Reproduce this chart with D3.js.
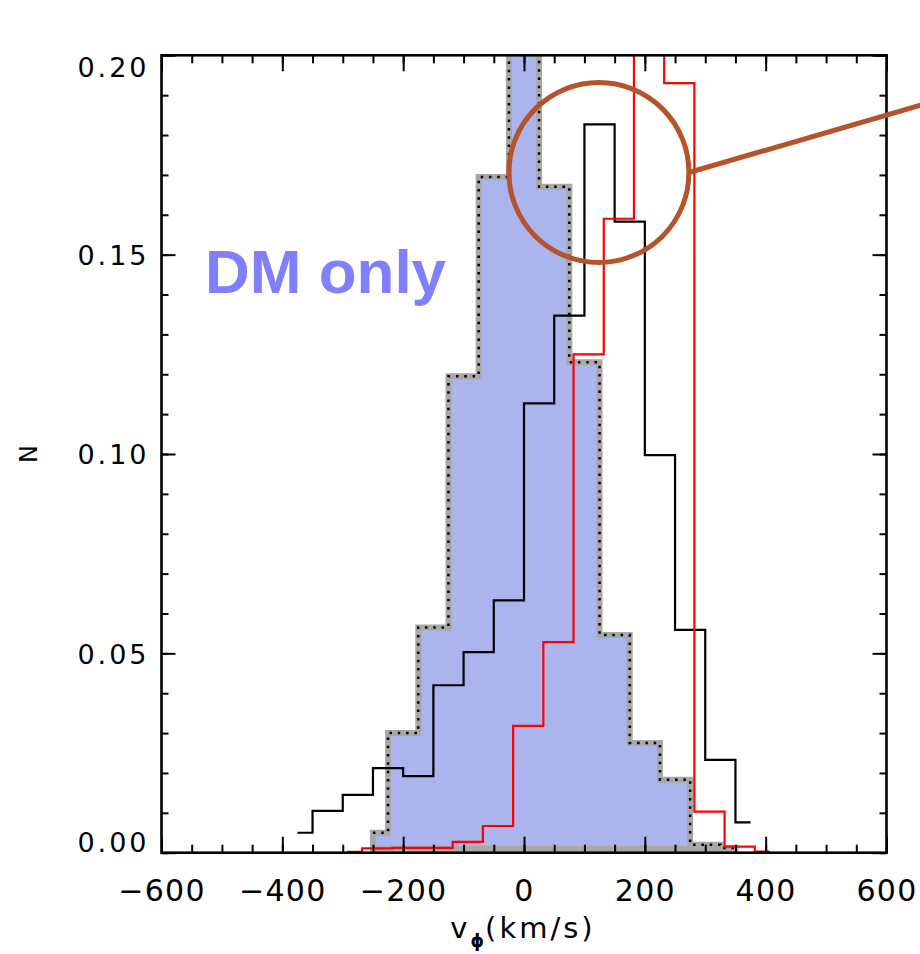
<!doctype html>
<html lang="en">

<head>
    <meta charset="UTF-8" />
    <meta name="viewport" content="width=device-width, initial-scale=1.0" />
    <script src="https://d3js.org/d3.v7.min.js"></script>
    <title>v_phi distribution</title>
    <style>
        body { margin: 0; background: #fff; }
    </style>
</head>

<body>
    <div id="chart"></div>
    <script>
        // Histogram bin centres (km/s) and normalised counts
        // DM-only run (filled)
        const dmCenters = [-250, -200, -150, -100, -50, 0, 50, 100, 150, 200, 250, 300, 350]
        const dmValues = [0.005, 0.030, 0.0565, 0.1195, 0.1695, 0.26, 0.167, 0.123, 0.0546, 0.0275, 0.0183, 0.002, 0.0012]

        // black histogram
        const blackCenters = [-375, -325, -275, -225, -175, -125, -75, -25, 25, 75, 125, 175, 225, 275, 325, 375]
        const blackValues = [0.005, 0.0105, 0.0145, 0.0212, 0.0192, 0.042, 0.0503, 0.0633, 0.1127, 0.1347, 0.1827, 0.1583, 0.0997, 0.0559, 0.0233, 0.0076]

        // red histogram
        const redCenters = [-293, -243, -193, -143, -93, -43, 7, 57, 107, 157, 207, 257, 307, 357, 407]
        const redValues = [0.0002, 0.0011, 0.0012, 0.0012, 0.0027, 0.0067, 0.0318, 0.0528, 0.125, 0.159, 0.30, 0.193, 0.0103, 0.0015, 0.0003]

        // ticks
        const xMajorTicks = [-600, -400, -200, 0, 200, 400, 600]
        const xMinorTicks = d3.range(-600, 601, 50)
        const yMajorTicks = [0, 0.05, 0.10, 0.15, 0.20]
        const yMinorTicks = d3.range(0, 0.2001, 0.01)

        // annotation: circle around the black peak, with pointer line
        const note = { cx: 124, cy: 0.1706, r: 90, x2: 664, y2: 0.1878 }
        const label = { x: -528, y: 0.1403, text: "DM only" }

        const W = 920
        const H = 954
        const margin = { top: 55.3, right: 33.5, bottom: 101.3, left: 161.5 }
        const width = W - margin.left - margin.right
        const height = H - margin.top - margin.bottom

        const x = d3.scaleLinear().domain([-600, 600]).range([0, width])
        const y = d3.scaleLinear().domain([0, 0.2]).range([height, 0])

        const svg = d3.select("#chart")
            .append("svg")
            .attr("width", W)
            .attr("height", H)
            .append("g")
            .attr("transform", `translate(${margin.left},${margin.top})`)

        svg.append("clipPath")
            .attr("id", "plot-clip")
            .append("rect")
            .attr("width", width)
            .attr("height", height)

        const plot = svg.append("g").attr("clip-path", "url(#plot-clip)")

        const toPoints = (cs, vs) => cs.map((c, i) => [c, vs[i]])

        const stepLine = d3.line()
            .x(d => x(d[0]))
            .y(d => y(d[1]))
            .curve(d3.curveStep)

        const stepArea = d3.area()
            .x(d => x(d[0]))
            .y0(y(0.001))
            .y1(d => y(d[1]))
            .curve(d3.curveStep)

        const dm = toPoints(dmCenters, dmValues)

        // DM only: filled, thick grey outline, dotted black step on top
        plot.append("path")
            .datum(dm)
            .attr("d", stepArea)
            .attr("fill", "#acb4ee")
            .attr("stroke", "#a8a8a8")
            .attr("stroke-width", 6)
            .attr("stroke-linejoin", "miter")

        plot.append("path")
            .datum(dm)
            .attr("d", stepLine)
            .attr("fill", "none")
            .attr("stroke", "#000")
            .attr("stroke-width", 2.5)
            .attr("stroke-dasharray", "2.5 5.8")

        plot.append("path")
            .datum(toPoints(blackCenters, blackValues))
            .attr("d", stepLine)
            .attr("fill", "none")
            .attr("stroke", "#000")
            .attr("stroke-width", 2.2)

        plot.append("path")
            .datum(toPoints(redCenters, redValues))
            .attr("d", stepLine)
            .attr("fill", "none")
            .attr("stroke", "#ff0000")
            .attr("stroke-width", 2.2)

        // Ticks on all four sides, pointing inward
        function ticks(axisFn, values, size) {
            return axisFn.tickValues(values).tickSizeInner(-size).tickSizeOuter(0).tickFormat("")
        }

        function styleTicks(g) {
            g.select(".domain").remove()
            g.selectAll(".tick line").attr("stroke", "#000").attr("stroke-width", 2)
        }

        const bottomTicks = svg.append("g").attr("transform", `translate(0,${height})`)
        bottomTicks.append("g").call(ticks(d3.axisBottom(x), xMinorTicks, 8)).call(styleTicks)
        bottomTicks.append("g").call(ticks(d3.axisBottom(x), xMajorTicks, 16)).call(styleTicks)

        const topTicks = svg.append("g")
        topTicks.append("g").call(ticks(d3.axisTop(x), xMinorTicks, 8)).call(styleTicks)
        topTicks.append("g").call(ticks(d3.axisTop(x), xMajorTicks, 16)).call(styleTicks)

        const leftTicks = svg.append("g")
        leftTicks.append("g").call(ticks(d3.axisLeft(y), yMinorTicks, 7)).call(styleTicks)
        leftTicks.append("g").call(ticks(d3.axisLeft(y), yMajorTicks, 14)).call(styleTicks)

        const rightTicks = svg.append("g").attr("transform", `translate(${width},0)`)
        rightTicks.append("g").call(ticks(d3.axisRight(y), yMinorTicks, 7)).call(styleTicks)
        rightTicks.append("g").call(ticks(d3.axisRight(y), yMajorTicks, 14)).call(styleTicks)

        // frame
        svg.append("rect")
            .attr("width", width)
            .attr("height", height)
            .attr("fill", "none")
            .attr("stroke", "#000")
            .attr("stroke-width", 2.6)

        // Tick labels
        svg.append("g")
            .attr("transform", `translate(0,${height})`)
            .call(d3.axisBottom(x).tickValues(xMajorTicks).tickSize(0).tickPadding(27))
            .call(g => g.select(".domain").remove())
            .selectAll("text")
            .attr("font-family", "DejaVu Sans")
            .attr("font-size", 30)
            .attr("letter-spacing", 1.3)
            .attr("fill", "#000")

        svg.append("g")
            .call(d3.axisLeft(y).tickValues(yMajorTicks).tickSize(0).tickPadding(12)
                .tickFormat(d3.format(".2f")))
            .call(g => g.select(".domain").remove())
            .selectAll("text")
            .attr("font-family", "DejaVu Sans")
            .attr("font-size", 27)
            .attr("letter-spacing", 3)
            .attr("fill", "#000")
            .attr("dy", d => d === 0.2 ? "0.78em" : d === 0 ? "-0.06em" : "0.36em")

        // Axis titles
        svg.append("text")
            .attr("transform", `translate(${37 - margin.left},${y(0.1)}) rotate(-90)`)
            .attr("text-anchor", "middle")
            .attr("font-family", "DejaVu Sans")
            .attr("font-size", 24)
            .text("N")

        const xTitle = svg.append("text")
            .attr("x", width / 2 - 1)
            .attr("y", height + 85)
            .attr("text-anchor", "middle")
            .attr("font-family", "DejaVu Sans")
            .attr("font-size", 29)
            .attr("letter-spacing", 3)
        xTitle.append("tspan").text("v")
        xTitle.append("tspan")
            .attr("font-size", 17)
            .attr("font-weight", "bold")
            .attr("dy", 9)
            .attr("letter-spacing", 1)
            .text("\u03d5")
        xTitle.append("tspan").attr("dy", -9).text("(km/s)")

        // Annotation circle and pointer
        const cx = x(note.cx)
        const cy = y(note.cy)
        svg.append("circle")
            .attr("cx", cx)
            .attr("cy", cy)
            .attr("r", note.r)
            .attr("fill", "none")
            .attr("stroke", "#b5532b")
            .attr("stroke-width", 5)

        svg.append("line")
            .attr("x1", cx + note.r)
            .attr("y1", cy)
            .attr("x2", x(note.x2))
            .attr("y2", y(note.y2))
            .attr("stroke", "#b5532b")
            .attr("stroke-width", 5)

        svg.append("text")
            .attr("x", x(label.x))
            .attr("y", y(label.y))
            .attr("font-family", "Liberation Sans, Arial, sans-serif")
            .attr("font-weight", "bold")
            .attr("font-size", 62)
            .attr("fill", "#8080ff")
            .text(label.text)
    </script>
</body>

</html>
